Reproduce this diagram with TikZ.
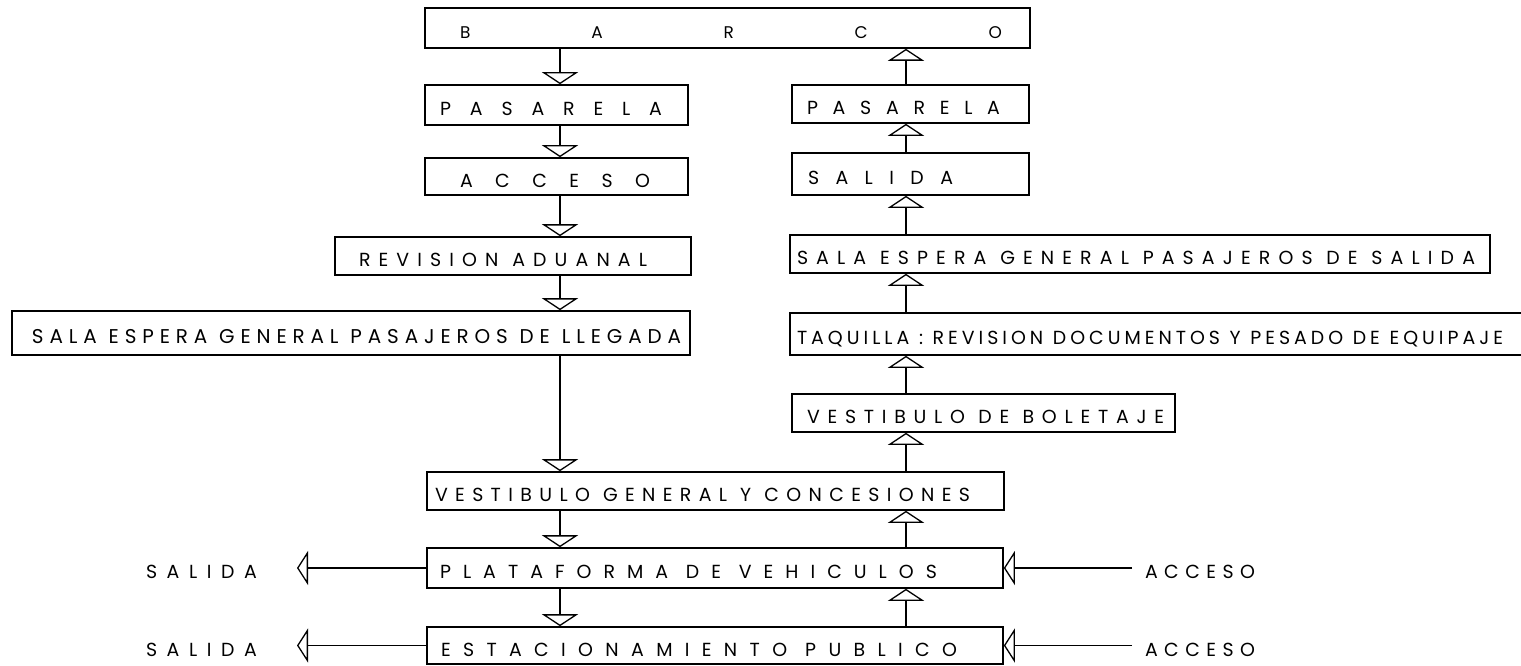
\documentclass[tikz,border=0pt]{standalone}
\usepackage{fontspec}
\setmainfont{Poppins}
\usetikzlibrary{arrows.meta}
\makeatletter
\def\spreadword#1{\spr@first#1\relax}
\def\spr@first#1{#1\spr@}
\def\spr@#1{\ifx\relax#1\else\hskip 0pt plus 1fil minus 1fil\relax#1\expandafter\spr@\fi}
\def\sp@words#1 #2\@nil{\spreadword{#1}\ifx\relax#2\relax\else\hskip .3em plus 1fil minus 1fil\relax\sp@words#2\@nil\fi}
\newcommand\sptext[2]{\hbox to #1bp{\sp@words#2 \@nil}}
\newcommand\boxtext[4]{\hbox to #1bp{\kern#2bp\sptext{#3}{#4}\hss}}
\makeatother
\tikzset{
  box/.style={draw, line width=1.6bp, rectangle, inner sep=0pt,
    text height=21bp, text depth=0bp, font=\fontsize{19}{19}\selectfont},
  lbl/.style={inner sep=0pt, text height=21bp, text depth=0bp,
    font=\fontsize{19}{19}\selectfont},
  varr/.style={line width=1.3bp, -{Triangle[open, length=12bp, width=36bp, line width=1.3bp]}},
  harr/.style={line width=1.3bp, -{Triangle[open, length=11bp, width=34bp, line width=1.3bp]}}
}
\begin{document}
\begin{tikzpicture}[x=1bp,y=-1bp]
\useasboundingbox (0,0) rectangle (1521,666);
% left column
\node[box, minimum width=605bp, minimum height=40bp, font=\fontsize{17}{17}\selectfont] (barco) at (727.5,28) {\boxtext{605}{35}{542}{BARCO}};
\node[box, minimum width=263bp, minimum height=40bp] (pasL) at (556.5,105) {\boxtext{263}{15}{222}{PASARELA}};
\node[box, minimum width=263bp, minimum height=37bp] (acc) at (556.5,176.5) {\boxtext{263}{35}{190}{ACCESO}};
\node[box, minimum width=356bp, minimum height=38bp] (rev) at (513,256) {\boxtext{356}{24}{288}{REVISION ADUANAL}};
\node[box, minimum width=678bp, minimum height=44bp, font=\fontsize{20}{20}\selectfont] (salaL) at (351,333) {\boxtext{678}{20}{649}{SALA ESPERA GENERAL PASAJEROS DE LLEGADA}};
\node[box, minimum width=577bp, minimum height=38bp] (vestG) at (715.5,491) {\boxtext{577}{8}{535}{VESTIBULO GENERAL Y CONCESIONES}};
\node[box, minimum width=576bp, minimum height=40bp] (plat) at (715,568) {\boxtext{576}{13}{497}{PLATAFORMA DE VEHICULOS}};
\node[box, minimum width=576bp, minimum height=37bp] (estac) at (715,645.5) {\boxtext{576}{14}{516}{ESTACIONAMIENTO PUBLICO}};
% right column
\node[box, minimum width=237bp, minimum height=38bp] (pasR) at (910.5,104) {\boxtext{237}{15}{193}{PASARELA}};
\node[box, minimum width=237bp, minimum height=42bp] (salR) at (910.5,174) {\boxtext{237}{16}{145}{SALIDA}};
\node[box, minimum width=700bp, minimum height=38bp] (salaS) at (1140,254) {\boxtext{700}{7}{678}{SALA ESPERA GENERAL PASAJEROS DE SALIDA}};
\node[box, minimum width=735bp, minimum height=42bp] (taq) at (1157.5,334) {\boxtext{735}{7}{706}{TAQUILLA : REVISION DOCUMENTOS Y PESADO DE EQUIPAJE}};
\node[box, minimum width=383bp, minimum height=38bp] (vestB) at (983.5,413) {\boxtext{383}{15}{357}{VESTIBULO DE BOLETAJE}};
% side labels
\node[lbl] (sal1) at (201.5,568) {\sptext{111}{SALIDA}};
\node[lbl] (sal2) at (201.5,645.5) {\sptext{111}{SALIDA}};
\node[lbl] (acc1) at (1200,568) {\sptext{110}{ACCESO}};
\node[lbl] (acc2) at (1200,645.5) {\sptext{110}{ACCESO}};
\coordinate (cl) at (560,0);
\coordinate (cr) at (906,0);
\coordinate (t1) at (297,568);
\coordinate (t2) at (297,645.5);
\coordinate (a1) at (1132,568);
\coordinate (a2) at (1132,645.5);
% left column arrows (down)
\draw[varr] (barco.south -| cl) -- (pasL.north -| cl);
\draw[varr] (pasL.south -| cl) -- (acc.north -| cl);
\draw[varr] (acc.south -| cl) -- (rev.north -| cl);
\draw[varr] (rev.south -| cl) -- (salaL.north -| cl);
\draw[varr] (salaL.south -| cl) -- (vestG.north -| cl);
\draw[varr] (vestG.south -| cl) -- (plat.north -| cl);
\draw[varr] (plat.south -| cl) -- (estac.north -| cl);
% right column arrows (up)
\draw[varr] (estac.north -| cr) -- (plat.south -| cr);
\draw[varr] (plat.north -| cr) -- (vestG.south -| cr);
\draw[varr] (vestG.north -| cr) -- (vestB.south -| cr);
\draw[varr] (vestB.north -| cr) -- (taq.south -| cr);
\draw[varr] (taq.north -| cr) -- (salaS.south -| cr);
\draw[varr] (salaS.north -| cr) -- (salR.south -| cr);
\draw[varr] (salR.north -| cr) -- (pasR.south -| cr);
\draw[varr] (pasR.north -| cr) -- (barco.south -| cr);
% side arrows
\draw[harr] (plat.west) -- (t1);
\draw[harr] (estac.west) -- (t2);
\draw[harr] (a1) -- (plat.east);
\draw[harr] (a2) -- (estac.east);
\end{tikzpicture}
\end{document}
